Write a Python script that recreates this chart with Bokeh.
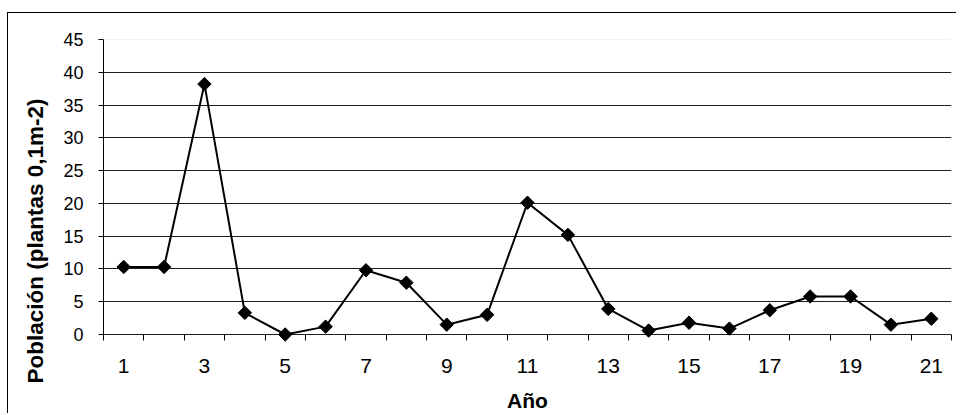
import math
from bokeh.plotting import figure
from bokeh.models import FixedTicker, Span, Title, Range1d
from bokeh.embed import file_html
from bokeh.resources import INLINE

# ---- data ----
anos = list(range(1, 22))
poblacion = [10.3, 10.3, 38.2, 3.3, 0.0, 1.2, 9.8, 7.9, 1.5, 3.0, 20.1,
             15.2, 3.9, 0.6, 1.8, 0.9, 3.7, 5.8, 5.8, 1.5, 2.4]
y_ticks = [0, 5, 10, 15, 20, 25, 30, 35, 40, 45]
x_label_ticks = [1, 3, 5, 7, 9, 11, 13, 15, 17, 19, 21]
x_title = "Año"
y_title = "Población (plantas 0,1m-2)"

FONT = "Liberation Sans"

p = figure(width=949, height=401,
           x_range=Range1d(0.5, 21.5), y_range=Range1d(-1.525, 45),
           output_backend="svg", toolbar_location=None,
           min_border_left=95, min_border_right=6,
           min_border_top=26, min_border_bottom=70)
p.styles = {"border-top": "1.5px solid black", "border-left": "1.5px solid black",
            "margin-top": "11.5px", "margin-left": "7px"}
p.outline_line_color = None
p.background_fill_color = "white"
p.border_fill_color = "white"

# x axis (categories, ticks between categories)
xa = p.xaxis[0]
xa.ticker = FixedTicker(ticks=x_label_ticks,
                        minor_ticks=[a - 0.5 for a in anos] + [anos[-1] + 0.5])
xa.axis_line_color = None
xa.major_tick_out = 0
xa.major_tick_in = 0
xa.minor_tick_in = 10
xa.minor_tick_out = -4
xa.minor_tick_line_color = "black"
xa.major_label_text_font = FONT
xa.major_label_text_font_size = "21px"
xa.major_label_text_color = "black"
xa.major_label_standoff = 14
xa.axis_label = x_title
xa.axis_label_standoff = 13
xa.axis_label_text_font = FONT
xa.axis_label_text_font_style = "bold"
xa.axis_label_text_font_size = "21px"
xa.axis_label_text_color = "black"

ya = p.yaxis[0]
ya.ticker = FixedTicker(ticks=y_ticks)
ya.bounds = (0, 45)
ya.major_tick_out = 5
ya.major_tick_in = 0
ya.minor_tick_out = 0
ya.minor_tick_in = 0
ya.axis_line_color = "black"
ya.major_tick_line_color = "black"
ya.major_label_text_font = FONT
ya.major_label_text_font_size = "18px"
ya.major_label_text_color = "black"
ya.major_label_standoff = 15

p.xgrid.visible = False
p.ygrid.ticker = FixedTicker(ticks=[t for t in y_ticks if t < 45])
p.ygrid.grid_line_color = "#1e1e1e"
p.ygrid.grid_line_width = 1
p.add_layout(Span(location=45, dimension="width", line_color="#e8e8e8", line_width=1))

p.line(anos, poblacion, line_color="black", line_width=2)
p.scatter(anos, poblacion, marker="square", size=9.5, angle=math.pi / 4,
          fill_color="black", line_color="black")

p.add_layout(Title(text=y_title, align="left", offset=-39, standoff=25,
                   text_font=FONT, text_font_style="bold",
                   text_font_size="22.5px", text_color="black"), "left")

open("out.html", "w").write(file_html(p, INLINE))
